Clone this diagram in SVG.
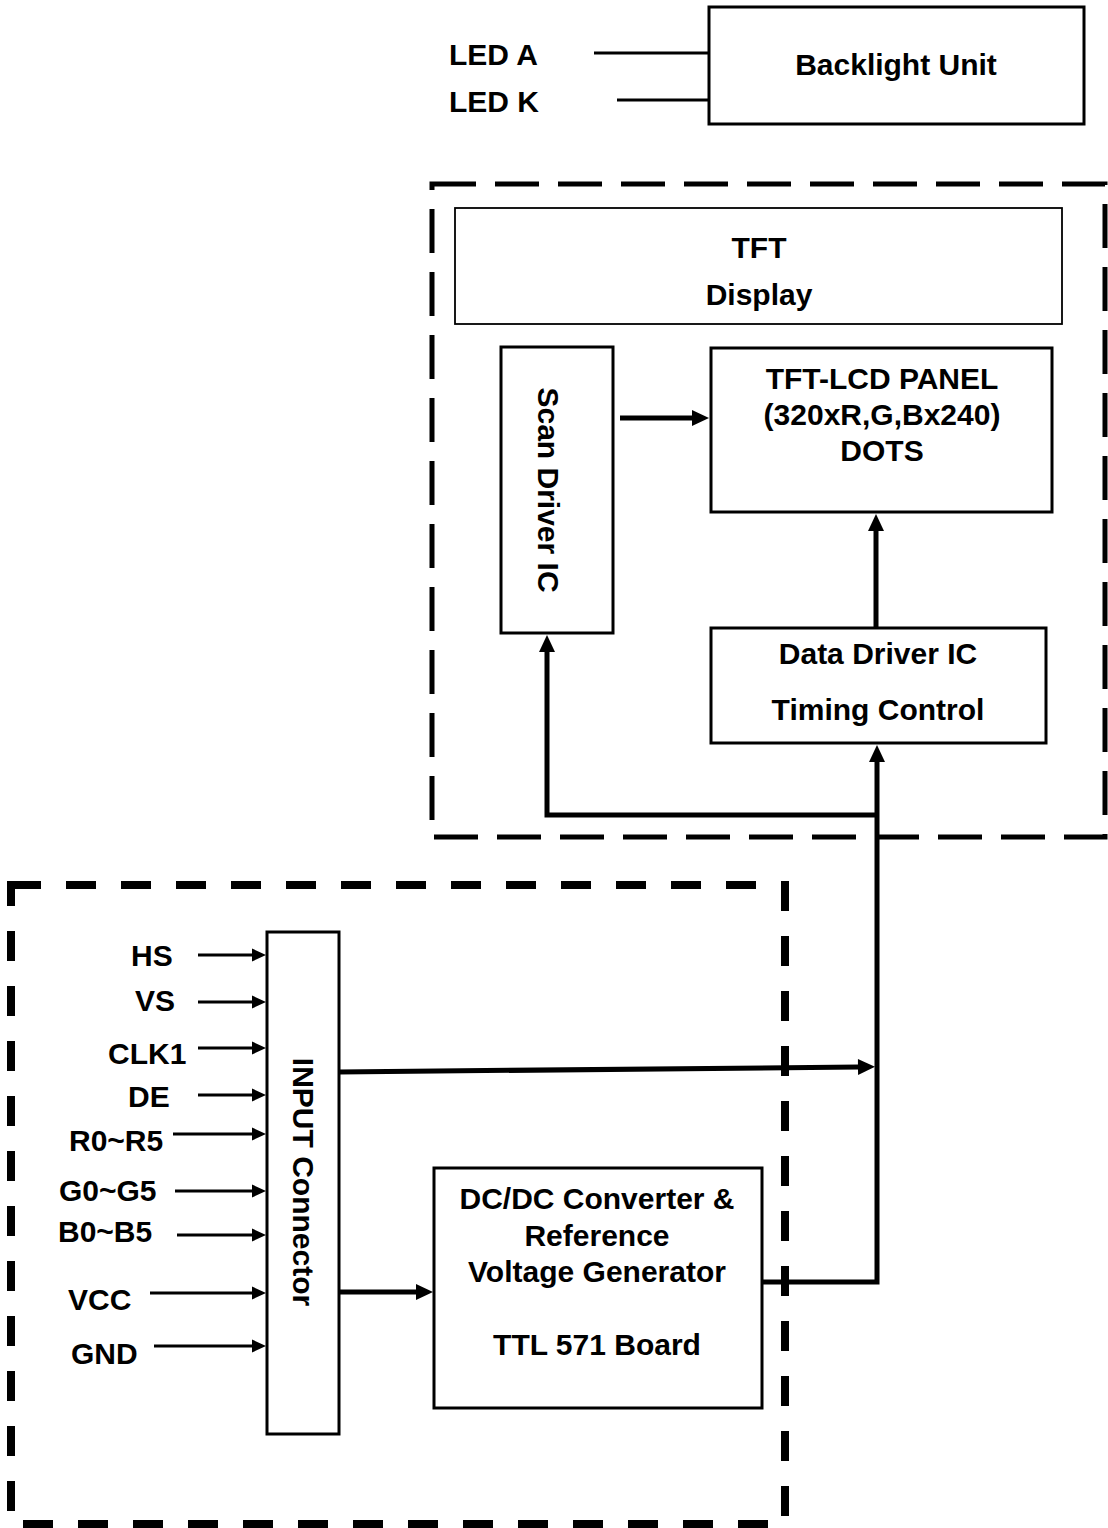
<svg xmlns="http://www.w3.org/2000/svg" width="1108" height="1528" viewBox="0 0 1108 1528">
<style>
text{font-family:"Liberation Sans",Arial,sans-serif;font-weight:bold;font-size:30px;fill:#000}
.c{text-anchor:middle}
.box{fill:#fff;stroke:#000;stroke-width:3}
.thin{fill:#fff;stroke:#000;stroke-width:1.8}
.bus{fill:none;stroke:#000;stroke-width:5;stroke-linejoin:miter}
.sig{fill:none;stroke:#000;stroke-width:3}
.dashT{fill:none;stroke:#000;stroke-width:5;stroke-dasharray:44 19}
.dashB{fill:none;stroke:#000;stroke-width:8;stroke-dasharray:30 25}
</style>
<defs>
<marker id="ah" markerUnits="userSpaceOnUse" markerWidth="20" markerHeight="20" refX="1" refY="0" orient="auto" overflow="visible"><path d="M0,-8 L17,0 L0,8 Z" fill="#000"/></marker>
<marker id="as" markerUnits="userSpaceOnUse" markerWidth="16" markerHeight="16" refX="1" refY="0" orient="auto" overflow="visible"><path d="M0,-6.5 L14,0 L0,6.5 Z" fill="#000"/></marker>
</defs>
<rect fill="#fff" x="0" y="0" width="1108" height="1528"/>

<g id="lcd-module-boundary"><rect class="dashT" x="432" y="184" width="673" height="653"/></g>
<g id="ttl-board-boundary"><rect class="dashB" x="11" y="885" width="774" height="639"/></g>

<g id="connectors">
<line class="sig" x1="594" y1="53" x2="709" y2="53"/>
<line class="sig" x1="617" y1="100" x2="709" y2="100"/>
<line class="bus" x1="620" y1="418" x2="693" y2="418" marker-end="url(#ah)"/>
<line class="bus" x1="876" y1="627" x2="876" y2="530" marker-end="url(#ah)"/>
<path class="bus" d="M762,1282 H877 V761" marker-end="url(#ah)"/>
<path class="bus" d="M877,815 H547 V651" marker-end="url(#ah)"/>
<line class="bus" x1="339" y1="1072" x2="859" y2="1067" marker-end="url(#ah)"/>
<line class="bus" x1="339" y1="1292" x2="417" y2="1292" marker-end="url(#ah)"/>
<line class="sig" x1="198" y1="955" x2="253" y2="955" marker-end="url(#as)"/>
<line class="sig" x1="198" y1="1002" x2="253" y2="1002" marker-end="url(#as)"/>
<line class="sig" x1="198" y1="1048" x2="253" y2="1048" marker-end="url(#as)"/>
<line class="sig" x1="198" y1="1095" x2="253" y2="1095" marker-end="url(#as)"/>
<line class="sig" x1="173" y1="1134" x2="253" y2="1134" marker-end="url(#as)"/>
<line class="sig" x1="175" y1="1191" x2="253" y2="1191" marker-end="url(#as)"/>
<line class="sig" x1="177" y1="1235" x2="253" y2="1235" marker-end="url(#as)"/>
<line class="sig" x1="150" y1="1293" x2="253" y2="1293" marker-end="url(#as)"/>
<line class="sig" x1="154" y1="1346" x2="253" y2="1346" marker-end="url(#as)"/>
</g>

<g id="backlight-unit">
<rect class="box" x="709" y="7" width="375" height="117"/>
<text class="c" x="896" y="75">Backlight Unit</text>
</g>
<g id="led-labels">
<text x="449" y="65">LED A</text>
<text x="449" y="112">LED K</text>
</g>
<g id="tft-display">
<rect class="thin" x="455" y="208" width="607" height="116"/>
<text class="c" x="759" y="258">TFT</text>
<text class="c" x="759" y="305">Display</text>
</g>
<g id="scan-driver">
<rect class="box" x="501" y="347" width="112" height="286"/>
<text class="c" transform="translate(538,490) rotate(90)">Scan Driver IC</text>
</g>
<g id="tft-lcd-panel">
<rect class="box" x="711" y="348" width="341" height="164"/>
<text class="c" x="882" y="389">TFT-LCD PANEL</text>
<text class="c" x="882" y="425">(320xR,G,Bx240)</text>
<text class="c" x="882" y="461">DOTS</text>
</g>
<g id="data-driver">
<rect class="box" x="711" y="628" width="335" height="115"/>
<text class="c" x="878" y="664">Data Driver IC</text>
<text class="c" x="878" y="720">Timing Control</text>
</g>
<g id="input-connector">
<rect class="box" x="267" y="932" width="72" height="502"/>
<text class="c" transform="translate(293,1182) rotate(90)">INPUT Connector</text>
</g>
<g id="dcdc-converter">
<rect class="box" x="434" y="1168" width="328" height="240"/>
<text class="c" x="597" y="1209">DC/DC Converter &amp;</text>
<text class="c" x="597" y="1246">Reference</text>
<text class="c" x="597" y="1282">Voltage Generator</text>
<text class="c" x="597" y="1355">TTL 571 Board</text>
</g>
<g id="input-labels">
<text x="131" y="966">HS</text>
<text x="135" y="1011">VS</text>
<text x="108" y="1064">CLK1</text>
<text x="128" y="1107">DE</text>
<text x="69" y="1151">R0~R5</text>
<text x="59" y="1201">G0~G5</text>
<text x="58" y="1242">B0~B5</text>
<text x="68" y="1310">VCC</text>
<text x="71" y="1364">GND</text>
</g>
</svg>
